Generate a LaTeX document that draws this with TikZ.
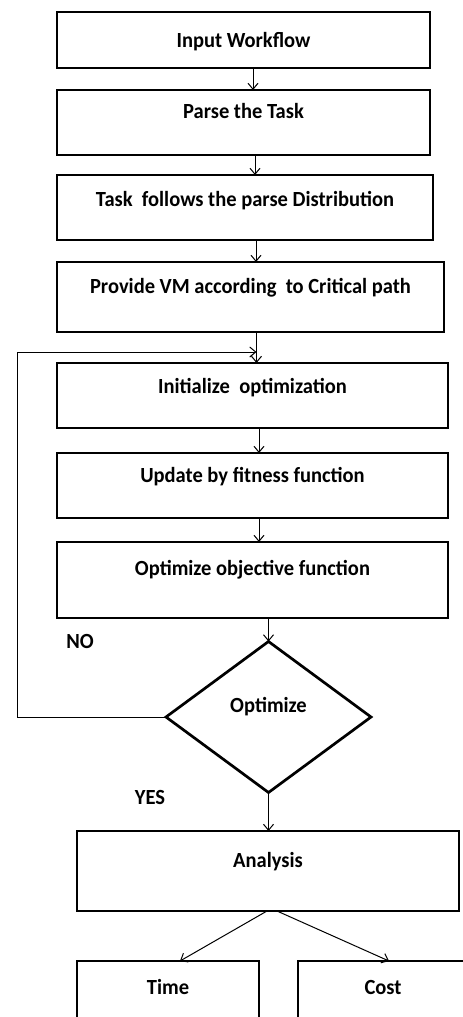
\documentclass[tikz,border=0pt]{standalone}
\usepackage{fontspec}
\setmainfont{Carlito}[FakeStretch=0.95]
\usetikzlibrary{arrows.meta,shapes.geometric}
\tikzset{
  bx/.style={draw=black, line width=2.7pt, rectangle, inner sep=0pt, outer sep=0pt},
  dm/.style={draw=black, line width=2.7pt, diamond, inner sep=0pt, outer sep=0pt},
  tx/.style={anchor=base, inner sep=0pt, font=\fontsize{21.6}{25}\selectfont\bfseries},
  arr/.style={draw=black, line width=1pt, -{Straight Barb[length=6pt,width=10pt]}},
  ln/.style={draw=black, line width=1pt}
}
\begin{document}
\begin{tikzpicture}[x=1pt,y=-1pt]
\useasboundingbox (0,0) rectangle (463,1017);
\clip (0,0) rectangle (463,1017);
\fill[white] (0,0) rectangle (463,1017);
% boxes
\node[bx, minimum width=373pt, minimum height=56pt] (b1) at (243.5,40) {};
\node[bx, minimum width=373pt, minimum height=65pt] (b2) at (243.5,122.5) {};
\node[bx, minimum width=376pt, minimum height=65pt] (b3) at (245,207.5) {};
\node[bx, minimum width=387pt, minimum height=70pt] (b4) at (250.5,297) {};
\node[bx, minimum width=391pt, minimum height=65pt] (b5) at (252.5,395.5) {};
\node[bx, minimum width=391pt, minimum height=65pt] (b6) at (252.5,485.5) {};
\node[bx, minimum width=391pt, minimum height=76pt] (b7) at (252.5,580) {};
\node[dm, minimum width=205pt, minimum height=151pt] (dec) at (268.5,717) {};
\node[bx, minimum width=382pt, minimum height=80pt] (an) at (268,871) {};
\node[bx, minimum width=182pt, minimum height=90pt] (time) at (168,1006) {};
\node[bx, minimum width=182pt, minimum height=90pt] (cost) at (389,1006) {};
% texts
\node[tx] (t1) at (243.5,47) {Input Workflow};
\node[tx] (t2) at (243.5,118) {Parse the Task};
\node[tx] (t3) at (245,206) {Task\ \ follows the parse Distribution};
\node[tx] (t4) at (250.5,293) {Provide VM according\ \ to Critical path};
\node[tx] (t5) at (252.5,393) {Initialize\ \ optimization};
\node[tx] (t6) at (252.5,482) {Update by fitness function};
\node[tx] (t7) at (252.5,575) {Optimize objective function};
\node[tx] (t8) at (268.5,712) {Optimize};
\node[tx] (t9) at (268,867) {Analysis};
\node[tx] (t10) at (168,994) {Time};
\node[tx] (t11) at (383,994) {Cost};
\node[tx] (no) at (80,648) {NO};
\node[tx] (yes) at (150,804) {YES};
% connectors
\draw[arr] ([xshift=9.5pt]b1.south) -- ([xshift=9.5pt]b1.south |- b2.north);
\draw[arr] ([xshift=11.5pt]b2.south) -- ([xshift=11.5pt]b2.south |- b3.north);
\draw[arr] ([xshift=11pt]b3.south) -- ([xshift=11pt]b3.south |- b4.north);
\draw[arr] ([xshift=6pt]b4.south) -- ([xshift=6pt]b4.south |- b5.north);
\coordinate (jn) at ([xshift=6pt]b4.south |- 0,352);
\coordinate (lpx) at (17,352);
\draw[arr] (dec.west) -| (lpx) -- (jn);
\draw[arr] ([xshift=6.5pt]b5.south) -- ([xshift=6.5pt]b5.south |- b6.north);
\draw[arr] ([xshift=6.5pt]b6.south) -- ([xshift=6.5pt]b6.south |- b7.north);
\draw[arr] (b7.south -| dec.north) -- (dec.north);
\draw[arr] (dec.south) -- (dec.south |- an.north);
\draw[arr] ([xshift=-1pt]an.south) -- ([xshift=12pt]time.north);
\draw[arr] ([xshift=9pt]an.south) -- (cost.north);
\end{tikzpicture}
\end{document}
